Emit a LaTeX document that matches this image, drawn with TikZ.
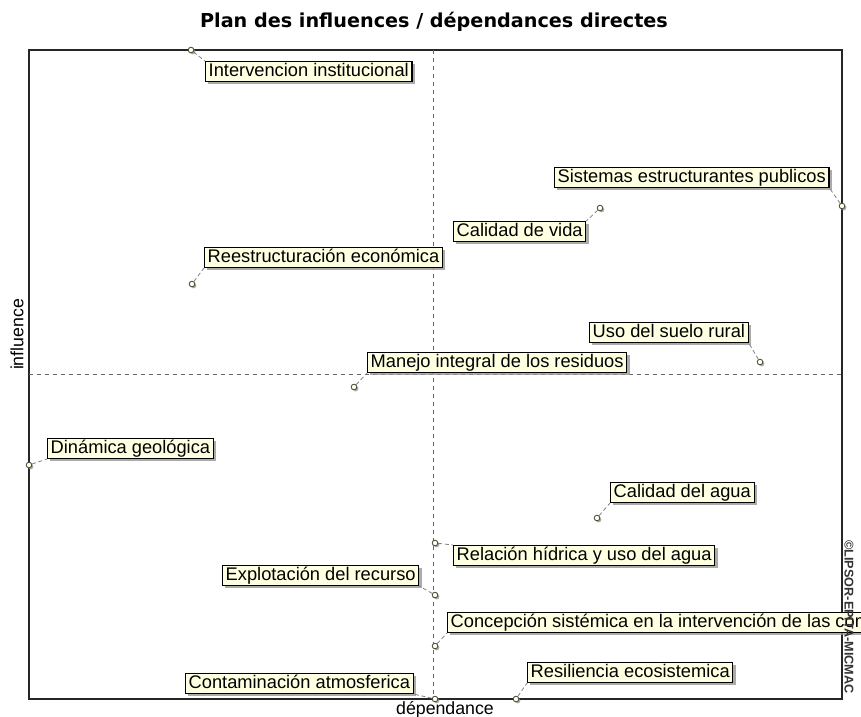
\documentclass[tikz,border=0pt]{standalone}
\usepackage{fontspec}
\setmainfont{Liberation Sans}
\newfontfamily\titlefont{DejaVu Sans}
\usetikzlibrary{shadows}
\definecolor{tipyellow}{RGB}{255,255,225}
\definecolor{shadowgray}{RGB}{150,150,150}
\tikzset{
  lbl/.style={draw=black, line width=0.8pt, fill=tipyellow, anchor=north west,
    font=\fontsize{13.7}{15}\selectfont, inner xsep=2.4pt, inner ysep=0pt,
    minimum height=15pt, text height=10pt, text depth=2.8pt,
    drop shadow={shadow xshift=2.2pt, shadow yshift=-2.2pt, fill=shadowgray, opacity=0.8}},
  pt/.style={circle, draw=black!75, line width=0.6pt, fill=tipyellow, inner sep=0pt,
    minimum size=4.2pt,
    drop shadow={shadow xshift=1.2pt, shadow yshift=-1.2pt, fill=shadowgray, opacity=0.8}},
  conn/.style={draw=gray, densely dashed, line width=0.6pt},
  axis/.style={draw=black!60, dashed, line width=0.5pt},
  frame/.style={draw=black!85, line width=0.9pt},
  axlab/.style={font=\fontsize{13.3}{15}\selectfont}
}
\begin{document}
\begin{tikzpicture}[x=0.75pt,y=-0.75pt]
\useasboundingbox (0,0) rectangle (861,717);
\clip (0,0) rectangle (861,717);
% title
\node[font=\titlefont\bfseries\fontsize{14.4}{16}\selectfont] (title) at (434,22) {Plan des influences / dépendances directes};
% frame
\draw[frame] (29,50) rectangle (842,699);
\coordinate (vt) at (433,50);
\coordinate (vb) at (433,699);
\coordinate (hl) at (29,374);
\coordinate (hr) at (842,374);
\draw[axis] (vt) -- (vb);
\draw[axis] (hl) -- (hr);
% axis labels
\node[axlab] (xlab) at (445,710) {dépendance};
\node[axlab, rotate=90] (ylab) at (17,334.5) {influence};
% labels
\node[lbl] (L1) at (205,61) {Intervencion institucional};
\node[lbl] (L2) at (554,167) {Sistemas estructurantes publicos};
\node[lbl] (L3) at (453,221) {Calidad de vida};
\node[lbl] (L4) at (204,247) {Reestructuración económica};
\node[lbl] (L5) at (589,322) {Uso del suelo rural};
\node[lbl] (L6) at (367,352) {Manejo integral de los residuos};
\node[lbl] (L7) at (47,438) {Dinámica geológica};
\node[lbl] (L8) at (610,482) {Calidad del agua};
\node[lbl] (L9) at (453,545) {Relación hídrica y uso del agua};
\node[lbl] (L10) at (222,565) {Explotación del recurso};
\node[lbl] (L11) at (447,612) {Concepción sistémica en la intervención de las com};
\node[lbl] (L12) at (527,662) {Resiliencia ecosistemica};
\node[lbl] (L13) at (185,673) {Contaminación atmosferica};
% points
\node[pt] (P1) at (191,50) {};
\node[pt] (P2) at (842,206) {};
\node[pt] (P3) at (600,208) {};
\node[pt] (P4) at (192,284) {};
\node[pt] (P5) at (760,362) {};
\node[pt] (P6) at (354,387) {};
\node[pt] (P7) at (29,465) {};
\node[pt] (P8) at (597,518) {};
\node[pt] (P9) at (435,543) {};
\node[pt] (P10) at (435,595) {};
\node[pt] (P11) at (435,646) {};
\node[pt] (P12) at (516,699) {};
\node[pt] (P13) at (435,699) {};
% connectors
\draw[conn] (P1) -- (L1.north west);
\draw[conn] (P2) -- (L2.south east);
\draw[conn] (P3) -- (L3.north east);
\draw[conn] (P4) -- (L4.south west);
\draw[conn] (P5) -- (L5.south east);
\draw[conn] (P6) -- (L6.south west);
\draw[conn] (P7) -- (L7.south west);
\draw[conn] (P8) -- (L8.south west);
\draw[conn] (P9) -- (L9.north west);
\draw[conn] (P10) -- (L10.south east);
\draw[conn] (P11) -- (L11.south west);
\draw[conn] (P12) -- (L12.south west);
\draw[conn] (P13) -- (L13.south east);
% copyright
\node[font=\bfseries\fontsize{9.5}{11}\selectfont, rotate=-90, text=black!80] (copy) at (849,617) {©LIPSOR-EPITA-MICMAC};
\end{tikzpicture}
\end{document}
